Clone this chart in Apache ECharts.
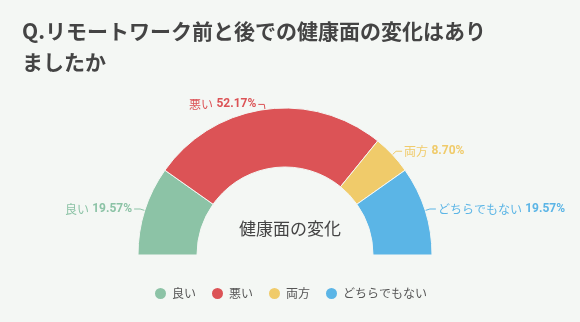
<!DOCTYPE html>
<html><head><meta charset="utf-8">
<script src="https://cdn.jsdelivr.net/npm/echarts@6/dist/echarts.min.js"></script>
<style>html,body{margin:0;padding:0;background:#f4f7f4}#c{width:580px;height:322px}</style>
</head><body><div id="c"></div>
<script>
const categories = ['良い', '悪い', '両方', 'どちらでもない'];
const values = [19.57, 52.17, 8.70, 19.57];
const colors = ['#8cc3a6', '#dc5356', '#f0cb6a', '#5bb5e6'];
const titleText = 'Q.リモートワーク前と後での健康面の変化はあり\nましたか';
const centerText = '健康面の変化';

const chart = echarts.init(document.getElementById('c'));
chart.setOption({
  backgroundColor: '#f4f7f4',
  title: [{
    text: titleText, left: 17, top: 11,
    textStyle: { fontSize: 21, fontWeight: 'bold', color: '#444', lineHeight: 31, fontFamily: 'Noto Sans CJK JP' }
  }, {
    text: centerText, left: 285, top: 215, textAlign: 'center',
    textStyle: { fontSize: 17, fontWeight: 'normal', color: '#444', fontFamily: 'Noto Sans CJK JP' }
  }],
  color: colors,
  legend: {
    bottom: 16, left: 'center', icon: 'circle', itemWidth: 13, itemHeight: 13, itemGap: 14,
    textStyle: { color: '#555', fontSize: 12, fontFamily: 'Noto Sans CJK JP' },
    data: categories
  },
  series: [{
    type: 'pie',
    center: [285, 255],
    radius: [88, 147],
    startAngle: 180,
    endAngle: 0,
    clockwise: true,
    itemStyle: { borderColor: '#f4f7f4', borderWidth: 1 },
    label: {
      show: true,
      overflow: 'none',
      distanceToLabelLine: 2,
      formatter: p => '{n|' + p.name + '} {v|' + p.value.toFixed(2) + '%}',
      rich: {
        n: { fontSize: 12, fontFamily: 'Noto Sans CJK JP' },
        v: { fontSize: 12, fontWeight: 'bold', fontFamily: 'Roboto' }
      }
    },
    labelLine: { length: 5, length2: 6 },
    data: categories.map((c, i) => ({ name: c, value: values[i], label: { color: colors[i] } }))
  }]
});
</script></body></html>
